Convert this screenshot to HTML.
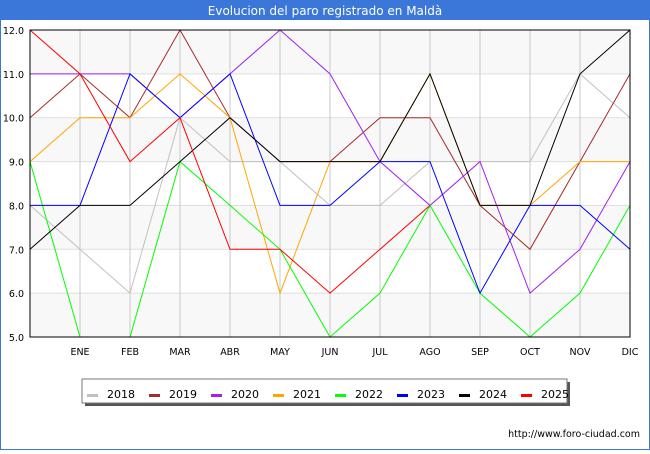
<!DOCTYPE html>
<html><head><meta charset="utf-8"><style>
body{margin:0;width:650px;height:450px;overflow:hidden;background:#fff;font-family:"DejaVu Sans","Liberation Sans",sans-serif}
</style></head><body>
<svg width="650" height="450" xmlns="http://www.w3.org/2000/svg">
<rect x="0.5" y="0.5" width="649" height="449" fill="#fff" stroke="#3a77d8"/>
<rect x="0" y="0" width="650" height="20" fill="#3a77d8"/>
<text x="325" y="15" text-anchor="middle" font-size="12" fill="#fff">Evolucion del paro registrado en Maldà</text>
<g id="plot"></g>
<g id="legend"></g>
<text x="640" y="437" text-anchor="end" font-size="9.5" fill="#000">http://www.foro-ciudad.com</text>
</svg>
<script>
const months = ["", "ENE","FEB","MAR","ABR","MAY","JUN","JUL","AGO","SEP","OCT","NOV","DIC"];
const yTicks = [5,6,7,8,9,10,11,12];
const years = ["2018","2019","2020","2021","2022","2023","2024","2025"];
const colors = ["#c0c0c0","#a52a2a","#a020f0","#ffa500","#00ff00","#0000ff","#000000","#ff0000"];
const s2018 = [8,7,6,10,9,9,8,8,9,9,9,11,10];
const s2019 = [10,11,10,12,10,9,9,10,10,8,7,9,11];
const s2020 = [11,11,11,10,11,12,11,9,8,9,6,7,9];
const s2021 = [9,10,10,11,10,6,9,9,11,8,8,9,9];
const s2022 = [9,5,5,9,8,7,5,6,8,6,5,6,8];
const s2023 = [8,8,11,10,11,8,8,9,9,6,8,8,7];
const s2024 = [7,8,8,9,10,9,9,9,11,8,8,11,12];
const s2025 = [12,11,9,10,7,7,6,7,8];
const series = [s2018,s2019,s2020,s2021,s2022,s2023,s2024,s2025];
const NS="http://www.w3.org/2000/svg";
const L=30,R=630,T=30,B=337,yMin=5,yMax=12;
const xS=i=>L+(R-L)*i/(months.length-1);
const yS=v=>B-(v-yMin)*(B-T)/(yMax-yMin);
const plot=document.getElementById('plot');
function mk(tag,attrs,parent){const e=document.createElementNS(NS,tag);for(const k in attrs)e.setAttribute(k,attrs[k]);parent.appendChild(e);return e;}
const bg=mk('rect',{x:L,y:T,width:R-L,height:B-T,fill:'#fff'},plot);


for(let i=0;i<yTicks.length-1;i++){
  if(i%2===0){const b=mk('rect',{x:L,y:yS(yTicks[i+1]),width:R-L,height:yS(yTicks[i])-yS(yTicks[i+1]),fill:'#f8f8f8'},plot);
  
  }
}
yTicks.forEach(v=>{
  const g=mk('line',{x1:L,x2:R,y1:yS(v),y2:yS(v),stroke:'#dddddd'},plot);
  
  
  const t=mk('text',{x:L-6,y:yS(v)+4,'text-anchor':'end','font-size':'9.5'},plot);
  t.textContent=v.toFixed(1);
  
  
});
months.forEach((m,i)=>{
  if(i===0)return;
  const g=mk('line',{x1:xS(i),x2:xS(i),y1:T,y2:B,stroke:'#c8c8c8'},plot);
  
  
  const t=mk('text',{x:xS(i),y:B+18,'text-anchor':'middle','font-size':'9.5'},plot);
  t.textContent=m;
  
  
});
series.forEach((s,k)=>{
  const p=mk('polyline',{points:s.map((v,i)=>xS(i)+','+yS(v)).join(' '),fill:'none',stroke:colors[k],'stroke-width':'1'},plot);
  
  
});
const ax=mk('rect',{x:L,y:T,width:R-L,height:B-T,fill:'none',stroke:'#000'},plot);


const lg=document.getElementById('legend');
const sh=mk('rect',{x:85,y:382,width:485,height:24,fill:'#555'},lg);


const lb=mk('rect',{x:82,y:379,width:485,height:24,fill:'#fff',stroke:'#777'},lg);


years.forEach((y,k)=>{
  const x=87+k*62;
  const sw=mk('rect',{x:x,y:394,width:11,height:3,fill:colors[k]},lg);
  
  
  const t=mk('text',{x:x+20,y:398,'font-size':'11'},lg);
  t.textContent=y;
  
  
});
</script>
</body></html>
